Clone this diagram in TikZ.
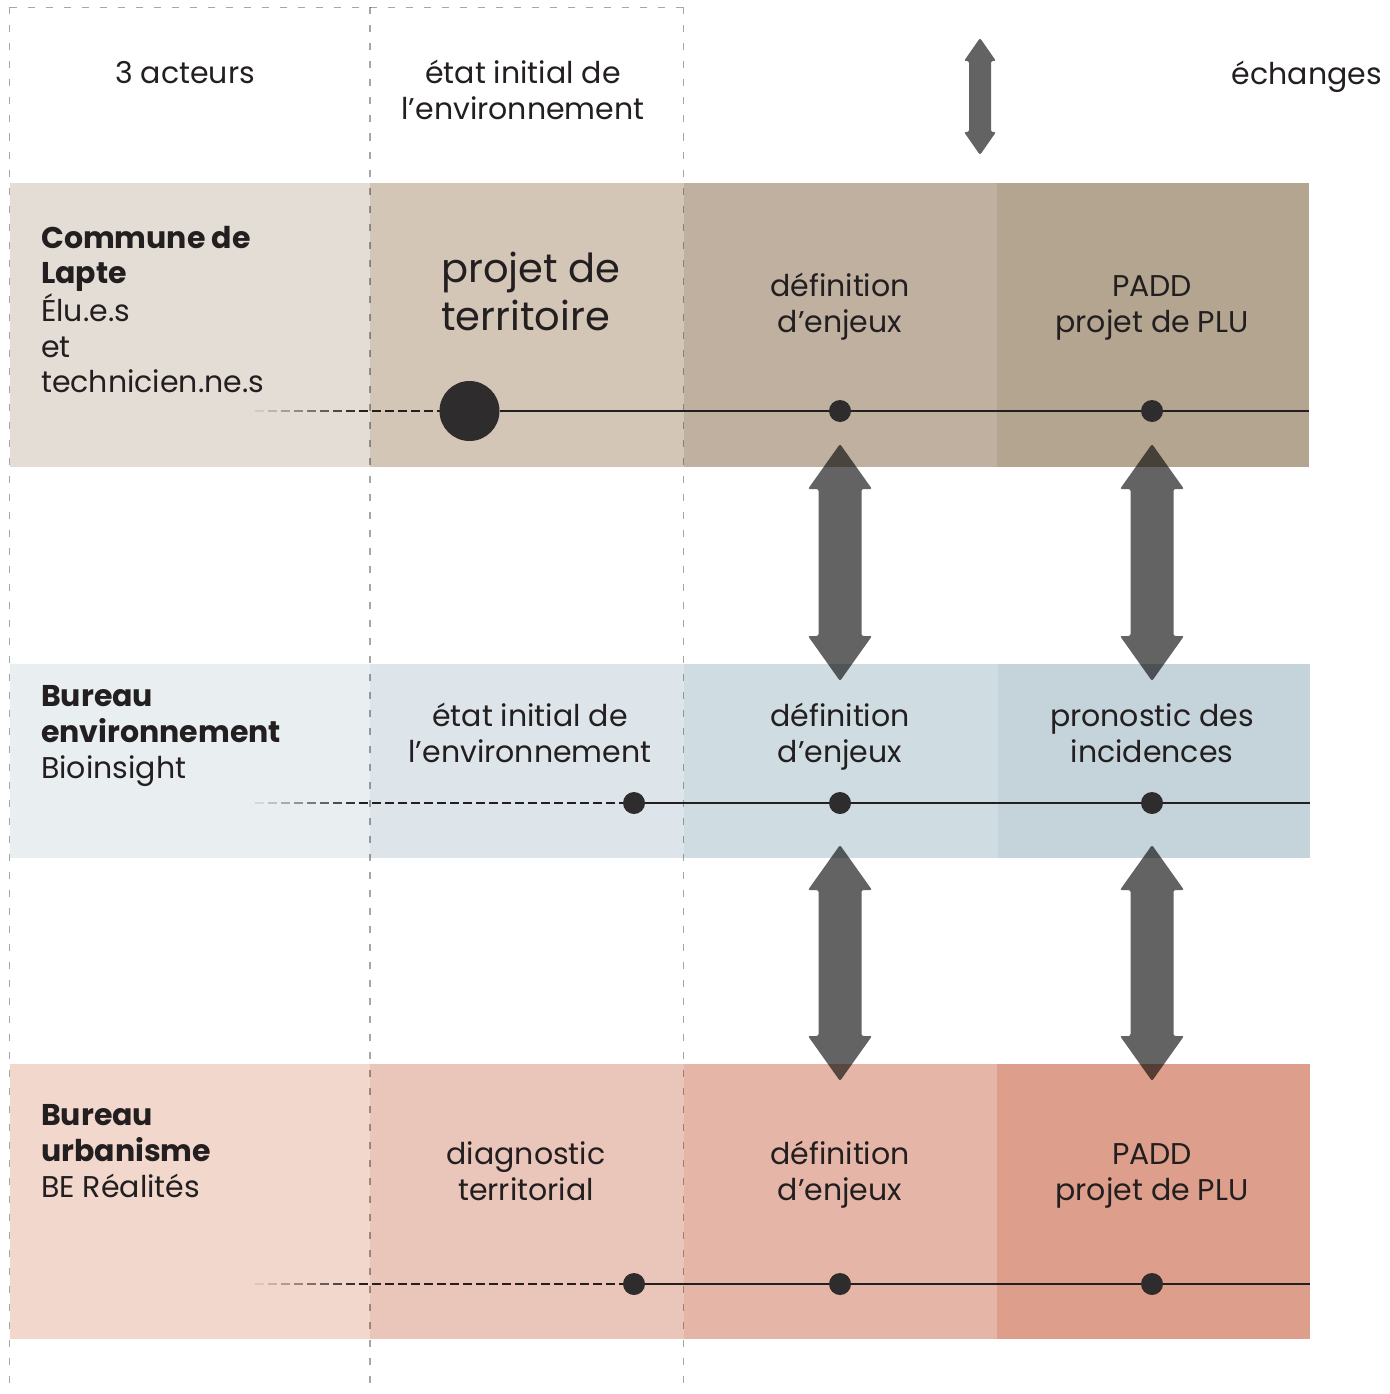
\documentclass[tikz,border=0pt]{standalone}
\usepackage{fontspec}
\setmainfont{Poppins}
\usetikzlibrary{calc}

% palette
\definecolor{ink}{HTML}{231F20}
\definecolor{dotc}{HTML}{2E2C2D}
\definecolor{aA}{HTML}{E4DDD6}\definecolor{aB}{HTML}{D3C6B7}
\definecolor{aC}{HTML}{BFB0A0}\definecolor{aD}{HTML}{B4A591}
\definecolor{bA}{HTML}{E9EEF0}\definecolor{bB}{HTML}{DDE5EA}
\definecolor{bC}{HTML}{CFDCE1}\definecolor{bD}{HTML}{C5D3DB}
\definecolor{cA}{HTML}{F2D7CC}\definecolor{cB}{HTML}{EAC5B9}
\definecolor{cC}{HTML}{E5B6A7}\definecolor{cD}{HTML}{DD9F8B}

% stacked lines whose baseline is the first line's
\newcommand\cstack[1]{\begin{tabular}[t]{@{}c@{}}#1\end{tabular}}
\newcommand\lstack[1]{\begin{tabular}[t]{@{}l@{}}#1\end{tabular}}

\begin{document}
\begin{tikzpicture}[x=1pt,y=-1pt,
  lbl/.style={inner sep=0, anchor=base, text=ink, font=\fontsize{30}{36}\selectfont},
  lbll/.style={lbl, anchor=base west},
  biglbl/.style={lbl, anchor=base west, font=\fontsize{40}{48}\selectfont},
  dot/.style={circle, fill=dotc, inner sep=0, minimum size=22},
  bigdot/.style={dot, minimum size=60},
  guide/.style={black, opacity=0.35, line width=1.2, dash pattern=on 7 off 11},
  track/.style={ink, line width=1.3},
  lead/.style={ink, line width=1.4},
  arrowfill/.style={fill=black, fill opacity=0.61, rounded corners=2},
  pics/exch/.style args={#1/#2/#3/#4}{code={%
    % #1 half length, #2 head half width, #3 shaft half width, #4 head length
    \fill[arrowfill] (0,-#1) -- (#2,-#1+#4) -- (#3,-#1+#4) -- (#3,#1-#4)
      -- (#2,#1-#4) -- (0,#1) -- (-#2,#1-#4) -- (-#3,#1-#4) -- (-#3,-#1+#4)
      -- (-#2,-#1+#4) -- cycle;}}]

\useasboundingbox (0,0) rectangle (1389,1394);

% ---- bands: one row per actor, four phases each
\fill[aA] (10,183) rectangle (370,467);
\fill[aB] (370,183) rectangle (684,467);
\fill[aC] (684,183) rectangle (997,467);
\fill[aD] (997,183) rectangle (1309,467);

\fill[bA] (10,664) rectangle (370,858);
\fill[bB] (370,664) rectangle (684,858);
\fill[bC] (684,664) rectangle (998,858);
\fill[bD] (998,664) rectangle (1310,858);

\fill[cA] (10,1064) rectangle (370,1339);
\fill[cB] (370,1064) rectangle (684,1339);
\fill[cC] (684,1064) rectangle (997,1339);
\fill[cD] (997,1064) rectangle (1310,1339);

% ---- dashed column guides
\draw[guide] (9.5,7.5) -- (683.5,7.5);
\draw[guide] (9.5,7.5) -- (9.5,1394);
\draw[guide] (370,7.5) -- (370,1394);
\draw[guide] (683.5,7.5) -- (683.5,1394);

% ---- fading lead-in dashes before each timeline
\foreach \x in {255,268,...,455}{
  \pgfmathsetmacro\op{min(1,0.1+(\x-255)/115)}
  \draw[lead, opacity=\op] (\x,411) -- (\x+8.5,411);}
\foreach \yy in {803,1284}{
  \foreach \x in {255,268,...,620}{
    \pgfmathsetmacro\op{min(1,0.1+(\x-255)/115)}
    \draw[lead, opacity=\op] (\x,\yy) -- (\x+8.5,\yy);}}

% ---- timelines
\node[bigdot] (p11) at (469.5,411) {};
\node[dot] (p12) at (840,411) {};
\node[dot] (p13) at (1152,411) {};
\coordinate (e1) at (1309,411);
\draw[track] (p11) -- (p12) -- (p13) -- (e1);

\node[dot] (p21) at (634,803) {};
\node[dot] (p22) at (840,803) {};
\node[dot] (p23) at (1152,803) {};
\coordinate (e2) at (1310,803);
\draw[track] (p21) -- (p22) -- (p23) -- (e2);

\node[dot] (p31) at (634,1284) {};
\node[dot] (p32) at (840,1284) {};
\node[dot] (p33) at (1152,1284) {};
\coordinate (e3) at (1310,1284);
\draw[track] (p31) -- (p32) -- (p33) -- (e3);

% ---- exchange arrows
\pic (legend) at (980,96.5) {exch=58.5/16/11/23};
\pic (x12) at (840,562.5) {exch=118.5/32/21.5/45};
\pic (x13) at (1152,562.5) {exch=118.5/32/21.5/45};
\pic (x22) at (840,963) {exch=118/32/21.5/45};
\pic (x23) at (1152,963) {exch=118/32/21.5/45};

% ---- header
\node[lbl] (h1) at (185,84) {3 acteurs};
\node[lbl] (h2) at (523,84) {\cstack{état initial de\\l’environnement}};
\node[lbl, anchor=base east] (h3) at (1382,85) {échanges};

% ---- row 1
\node[lbll, font=\fontsize{30}{35.5}\selectfont] (r1) at (41,248)
  {\lstack{\textbf{Commune de}\\\textbf{Lapte}\\Élu.e.s\\et\\technicien.ne.s}};
\node[biglbl] (t11) at (441,282) {\lstack{projet de\\territoire}};
\node[lbl] (t12) at (840,296) {\cstack{définition\\d’enjeux}};
\node[lbl] (t13) at (1152,296) {\cstack{PADD\\projet de PLU}};

% ---- row 2
\node[lbll] (r2) at (41,706)
  {\lstack{\textbf{Bureau}\\\textbf{environnement}\\Bioinsight}};
\node[lbl] (t21) at (530,726) {\cstack{état initial de\\l’environnement}};
\node[lbl] (t22) at (840,726) {\cstack{définition\\d’enjeux}};
\node[lbl] (t23) at (1152,726) {\cstack{pronostic des\\incidences}};

% ---- row 3
\node[lbll] (r3) at (41,1125)
  {\lstack{\textbf{Bureau}\\\textbf{urbanisme}\\BE Réalités}};
\node[lbl] (t31) at (526,1164) {\cstack{diagnostic\\territorial}};
\node[lbl] (t32) at (840,1164) {\cstack{définition\\d’enjeux}};
\node[lbl] (t33) at (1152,1164) {\cstack{PADD\\projet de PLU}};

\end{tikzpicture}
\end{document}
